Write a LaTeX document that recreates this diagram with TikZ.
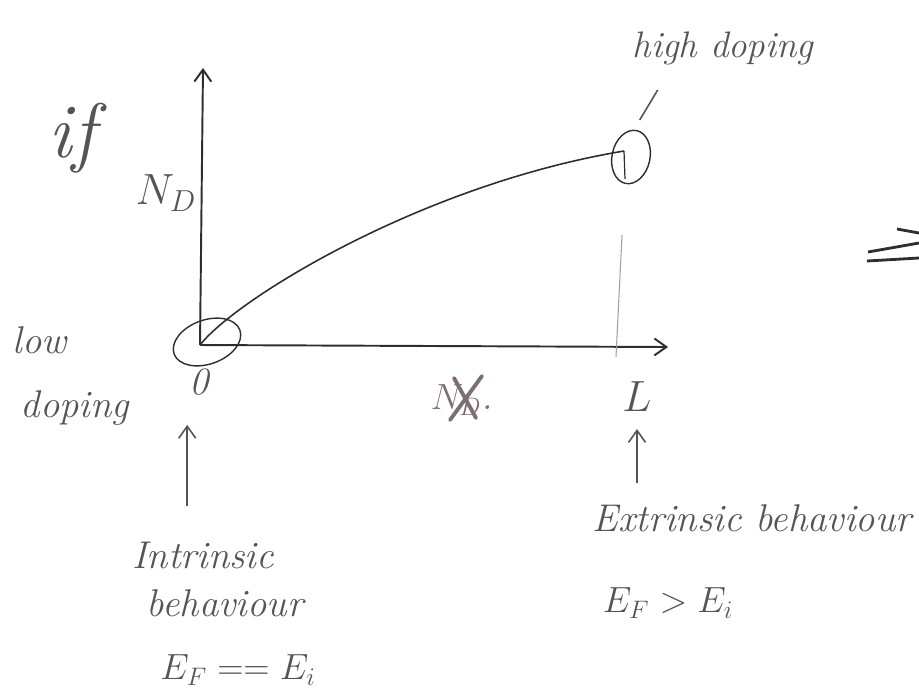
\documentclass[tikz,border=0pt]{standalone}
\usepackage{amsmath}
\usepackage{xcolor}
\usepackage{tikz}
\usetikzlibrary{arrows.meta,positioning,shapes.geometric}
\definecolor{ink}{HTML}{2E2E2E}
\definecolor{pencil}{HTML}{555555}
\definecolor{smudge}{HTML}{7D6E70}

\begin{document}
\begin{tikzpicture}[x=0.02cm,y=-0.02cm,
  >={Straight Barb[length=2.4mm,width=3.4mm]},
  hand/.style={text=pencil,font=\fontsize{22}{24}\selectfont\itshape,inner sep=1pt},
  bighand/.style={hand,font=\fontsize{44}{46}\selectfont\itshape},
  smallhand/.style={hand,font=\fontsize{21}{23}\selectfont\itshape},
  axisline/.style={draw=ink,line width=1.1pt},
  ring/.style={draw=ink,ellipse,line width=0.8pt,inner sep=0pt},
  pointer/.style={draw=pencil,line width=0.9pt},
  faint/.style={draw=pencil!55,line width=0.6pt},
  strikeout/.style={draw=smudge,line width=2.2pt,line cap=round}]
\useasboundingbox (0,0) rectangle (919,698);

% axes and doping curve
\coordinate (O) at (200,345);
\coordinate (ytip) at (203,68);
\coordinate (xtip) at (668,347);
\coordinate (hdend) at (624,151);
\draw[axisline,->] (O) -- (ytip);
\draw[axisline,->] (O) -- (xtip);
\draw[ink,line width=0.9pt] (O) .. controls (235,300) and (420,185) .. (hdend);
\draw[ink,line width=0.7pt] (hdend) -- ++(1,28);
\coordinate (Ltop) at (622,235);
\coordinate (Lfoot) at (616,357);
\draw[faint] (Ltop) -- (Lfoot);

% rings round the two ends
\node[ring,minimum width=1.4cm,minimum height=0.88cm,rotate=20] (lowring) at (207,342) {};
\node[ring,minimum width=0.76cm,minimum height=1.08cm,rotate=-12] (hdring) at (631,157) {};

% labels
\node[bighand] (iflab) at (72,138) {if};
\node[hand,font=\fontsize{27}{29}\selectfont] (ndlab) at (166,193) {$N_D$};
\node[hand] (lowlab) at (40,340) {low};
\node[hand] (dopelab) at (75,408) {doping};
\node[hand] (zero) at (199,382) {0};
\node[smallhand] (hdlab) at (723,48) {high doping};
\node[hand,font=\fontsize{26}{28}\selectfont] (Llab) at (637,397) {$L$};
\node[hand,text=smudge] (struck) at (462,400) {$N_D$.};
\node[hand] (intr1) at (203,555) {Intrinsic};
\node[hand] (intr2) at (225,603) {behaviour};
\node[hand] (intr3) at (238,670) {$E_F == E_i$};
\node[hand] (extr1) at (752,518) {Extrinsic behaviour};
\node[hand] (extr2) at (668,603) {$E_F > E_i$};

% pointers
\draw[pointer] (hdring.north) ++(3,-10) -- ++(18,-30);
\draw[pointer,->,shorten <=0.68cm,shorten >=0.55cm] (intr1.north -| zero.south west) -- (zero.south west);
\draw[pointer,->,shorten <=0.38cm,shorten >=0.3cm] (extr1.north -| Llab) -- (Llab);

% crossed out
\draw[strikeout] (struck.center) +(-8,-22) -- +(14,18);
\draw[strikeout] (struck.center) +(20,-24) -- +(-12,20);

% implies, cut off at the edge
\draw[ink,line width=1.6pt] (897,229) -- (919,233);
\draw[ink,line width=1.6pt] (868,252) -- (919,243);
\draw[ink,line width=1.6pt] (867,261) -- (919,258);
\end{tikzpicture}
\end{document}
